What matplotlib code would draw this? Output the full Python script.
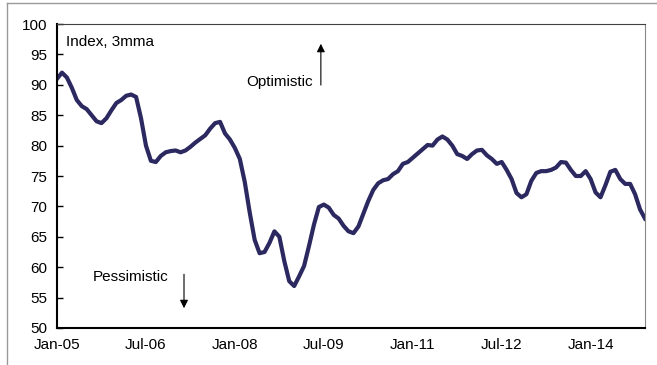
import matplotlib.pyplot as plt
from matplotlib.lines import Line2D

plt.rcParams['font.family'] = ['Liberation Sans', 'DejaVu Sans']

# monthly index, 3mma, Jan-05 .. Dec-14
values = [
    91.0, 92.0, 91.2, 89.5, 87.5, 86.5, 86.0, 85.0, 84.0, 83.7, 84.5, 85.8,
    87.0, 87.5, 88.2, 88.4, 88.0, 84.5, 80.0, 77.5, 77.3, 78.3, 78.9, 79.1,
    79.2, 78.9, 79.2, 79.8, 80.5, 81.1, 81.7, 82.8, 83.7, 83.9, 82.0, 81.0,
    79.6, 77.8, 74.0, 69.0, 64.5, 62.3, 62.5, 64.0, 65.9, 65.0, 61.0, 57.7,
    56.9, 58.5, 60.2, 63.5, 67.0, 69.9, 70.3, 69.8, 68.6, 68.0, 66.8, 65.9,
    65.6, 66.7, 68.8, 70.9, 72.7, 73.8, 74.3, 74.5, 75.3, 75.8, 77.0, 77.3,
    78.0, 78.7, 79.4, 80.1, 80.0, 81.0, 81.5, 81.0, 80.0, 78.6, 78.3, 77.8,
    78.6, 79.2, 79.3, 78.4, 77.8, 77.0, 77.3, 76.0, 74.5, 72.2, 71.5, 72.0,
    74.2, 75.5, 75.8, 75.8, 76.0, 76.4, 77.3, 77.2, 76.0, 75.0, 75.0, 75.8,
    74.5, 72.3, 71.5, 73.5, 75.7, 76.0, 74.5, 73.7, 73.7, 72.0, 69.5, 68.0,
]
tick_pos = [0, 18, 36, 54, 72, 90, 108]
tick_labels = ['Jan-05', 'Jul-06', 'Jan-08', 'Jul-09', 'Jan-11', 'Jul-12', 'Jan-14']

fig = plt.figure(figsize=(6.57, 3.65), dpi=100)
ax = fig.add_axes([0.0868, 0.1014, 0.8949, 0.8328])

ax.plot(range(len(values)), values, color='#2b2960', lw=3.0, solid_joinstyle='round')

ax.set_xlim(0, len(values) - 1)
ax.set_ylim(50, 100)
ax.set_yticks(range(50, 101, 5))
ax.set_xticks(tick_pos)
ax.set_xticklabels(tick_labels)
ax.tick_params(axis='y', direction='in', length=4, width=1, pad=7, labelsize=11)
ax.tick_params(axis='x', length=0, pad=7, labelsize=11)

ax.spines['left'].set_linewidth(1.5)
ax.spines['bottom'].set_linewidth(1.5)
ax.spines['top'].set_color('#404040')
ax.spines['right'].set_color('#888888')

ax.text(1.8, 97, 'Index, 3mma', fontsize=11, va='center')
ax.text(51.8, 90.5, 'Optimistic', fontsize=11, va='center', ha='right')
ax.text(7.3, 58.4, 'Pessimistic', fontsize=11, va='center')

ax.annotate('', xy=(53.4, 97.2), xytext=(53.4, 89.5),
            arrowprops=dict(arrowstyle='-|>', color='black', lw=0.8, mutation_scale=12))
ax.annotate('', xy=(25.7, 52.8), xytext=(25.7, 59.3),
            arrowprops=dict(arrowstyle='-|>', color='black', lw=0.8, mutation_scale=12))

# outer frame lines
fig.add_artist(Line2D([7 / 657, 7 / 657], [0, 1 - 3 / 365], color='#999999', lw=1))
fig.add_artist(Line2D([7 / 657, 1], [1 - 3 / 365, 1 - 3 / 365], color='#999999', lw=1))

fig.savefig('out.png', dpi=100)
